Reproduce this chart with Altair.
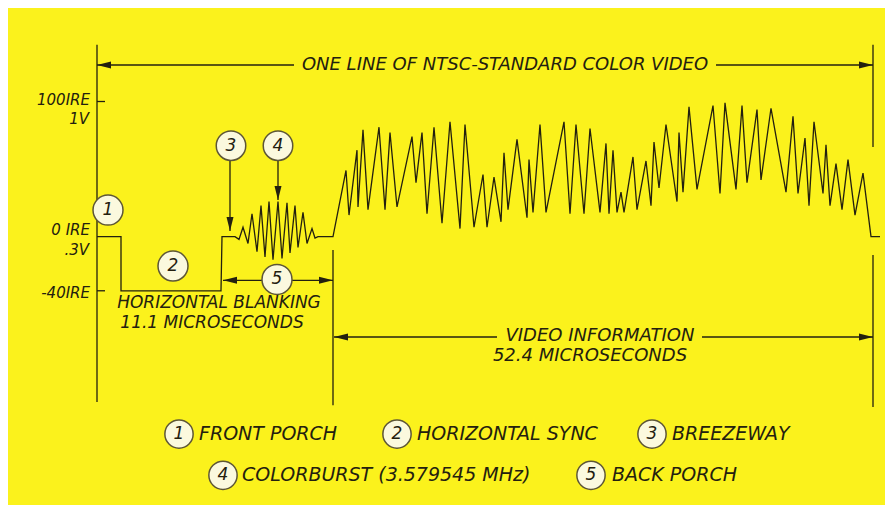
import altair as alt
import pandas as pd

# ---------------- waveform: x = position along the drawn line, y = level in IRE ----------------
sync_x = [97, 121, 121, 221, 222, 235]
sync_ire = [0, 0, -40, -40, 0, 0]

burst_x = [239, 243, 248, 252, 257, 261, 265, 269, 273, 278, 282, 287, 290, 295, 298, 303, 307, 312, 315, 318, 333]
burst_ire = [-2, 7, -5, 17, -11, 23, -15, 26, -17, 26, -16, 25, -12, 23, -8, 18, -5, 6, -1, 0, 0]

video_x = [346, 349, 357, 358, 363, 368, 379, 385, 390, 397, 412, 416, 422, 427, 434, 442, 450, 460,
           465, 474, 483, 487, 494, 501, 504, 508, 517, 527, 529, 533, 540, 546, 564, 570, 576, 584,
           590, 600, 606, 609, 613, 617, 621, 624, 633, 637, 646, 651, 654, 659, 666, 677, 679, 683,
           689, 697, 713, 720, 725, 736, 742, 747, 757, 761, 771, 786, 793, 798, 805, 809, 814, 823,
           826, 830, 836, 842, 848, 855, 863, 871, 880]
video_ire = [49, 16, 64, 22, 79, 20, 81, 20, 77, 22, 74, 40, 77, 17, 81, 10, 85, 6,
             83, 7, 46, 7, 44, 11, 62, 20, 72, 14, 57, 18, 83, 18, 85, 17, 83, 17,
             80, 18, 69, 17, 64, 18, 33, 18, 59, 20, 56, 23, 70, 36, 83, 26, 77, 33,
             96, 35, 97, 32, 99, 35, 97, 40, 94, 42, 95, 33, 89, 32, 73, 23, 85, 32,
             68, 23, 54, 20, 57, 16, 47, 0, 0]

wave_x = sync_x + burst_x + video_x
wave_ire = sync_ire + burst_ire + video_ire

# ---------------- drawing guides (lines, ticks, arrow shafts) ----------------
rule_x = [97, 873, 873, 333, 97, 97, 97, 716, 223, 292, 334, 702, 230, 278]
rule_x2 = [97, 873, 873, 333, 105, 105, 294, 873, 262, 333, 497, 873, 230, 278]
rule_y = [142, 142, -13.5, -9.8, 100, -40, 127, 127, -32.3, -32.3, -74.2, -74.2, 58, 58]
rule_y2 = [-122.3, 66.3, -126, -124.6, 100, -40, 127, 127, -32.3, -32.3, -74.2, -74.2, 4.2, 27.1]

# arrow heads: tip position and direction (degrees, clockwise from pointing right)
head_x = [97, 873, 223, 333, 334, 873, 230, 278]
head_y = [127, 127, -32.3, -32.3, -74.2, -74.2, 4.2, 27.1]
head_angle = [180, 0, 180, 0, 180, 0, 90, 90]

# ---------------- numbered callouts ----------------
callout_num = ["1", "2", "3", "4", "5", "1", "2", "3", "4", "5"]
callout_x = [108, 173, 231, 278, 277, 179, 397, 652, 223, 591]
callout_y = [19.7, -21.7, 67.3, 67.3, -31.6, -146.0, -146.0, -146.0, -176.5, -176.5]
callout_d = [900, 900, 870, 870, 900, 800, 800, 800, 800, 800]

# ---------------- texts ----------------
ctr_label = ["ONE LINE OF NTSC-STANDARD COLOR VIDEO", "HORIZONTAL BLANKING", "11.1 MICROSECONDS",
             "VIDEO INFORMATION", "52.4 MICROSECONDS"]
ctr_x = [505, 219, 212, 600, 590]
ctr_y = [127, -49.1, -63.5, -73.5, -88.3]
ctr_size = [18, 17, 17, 18, 18]

left_label = ["FRONT PORCH", "HORIZONTAL SYNC", "BREEZEWAY", "COLORBURST (3.579545 MHz)", "BACK PORCH"]
left_x = [199, 417, 672, 242, 612]
left_y = [-146.0, -146.0, -146.0, -176.5, -176.5]
left_size = [19, 19, 19, 19, 19]

right_label = ["100IRE", "1V", "0 IRE", ".3V", "-40IRE"]
right_x = [90, 89, 90, 89, 90]
right_y = [100.8, 87.1, 4.6, -9.8, -41.6]
right_size = [15, 15, 15, 15, 15]

# ---------------- build ----------------
INK = "#23200f"
BG = "#FBF21C"
FONT = "DejaVu Sans"

xs = alt.Scale(domain=[8, 885], nice=False, zero=False)
ys = alt.Scale(domain=[-198.45, 169.16], nice=False, zero=False)
X = lambda f="x": alt.X(f + ":Q", scale=xs, axis=None)
Y = lambda f="y": alt.Y(f + ":Q", scale=ys, axis=None)

wave = pd.DataFrame({"x": wave_x, "y": wave_ire, "i": range(len(wave_x))})
rules = pd.DataFrame({"x": rule_x, "x2": rule_x2, "y": rule_y, "y2": rule_y2})
heads = pd.DataFrame({"x": head_x, "y": head_y, "a": head_angle})
calls = pd.DataFrame({"x": callout_x, "y": callout_y, "n": callout_num, "s": callout_d})
ctr = pd.DataFrame({"x": ctr_x, "y": ctr_y, "t": ctr_label, "s": ctr_size})
lft = pd.DataFrame({"x": left_x, "y": left_y, "t": left_label, "s": left_size})
rgt = pd.DataFrame({"x": right_x, "y": right_y, "t": right_label, "s": right_size})

line_layer = alt.Chart(wave).mark_line(color=INK, strokeWidth=1.3, strokeJoin="miter").encode(
    x=X(), y=Y(), order=alt.Order("i:Q"))

rule_layer = alt.Chart(rules).mark_rule(color=INK, strokeWidth=1.3).encode(
    x=X(), x2="x2:Q", y=Y(), y2="y2:Q")

head_layer = alt.Chart(heads).mark_point(
    shape="M0,0L-2,-0.5L-2,0.5Z", filled=True, opacity=1, color=INK, size=196).encode(
    x=X(), y=Y(), angle=alt.Angle("a:Q", scale=None))

circ_layer = alt.Chart(calls).mark_point(
    shape="circle", filled=True, opacity=1, fill="#FBF9DE", stroke="#5d5636", strokeWidth=1.5).encode(
    x=X(), y=Y(), size=alt.Size("s:Q", scale=None))

num_layer = alt.Chart(calls).mark_text(
    font=FONT, fontStyle="italic", fontSize=17, color=INK, baseline="middle", align="center").encode(
    x=X(), y=Y(), text="n:N")

def text_layer(df, align):
    return alt.Chart(df).mark_text(
        font=FONT, fontStyle="italic", color=INK, baseline="middle", align=align).encode(
        x=X(), y=Y(), text="t:N", size=alt.Size("s:Q", scale=None))

chart = alt.layer(
    rule_layer, head_layer, line_layer, circ_layer, num_layer,
    text_layer(ctr, "center"), text_layer(lft, "left"), text_layer(rgt, "right"),
).properties(
    width=877, height=497, padding=0,
    autosize=alt.AutoSizeParams(type="none"),
    background=BG,
).configure_view(stroke=None)

chart.save("out.html", embed_options={"renderer": "svg", "actions": False})
